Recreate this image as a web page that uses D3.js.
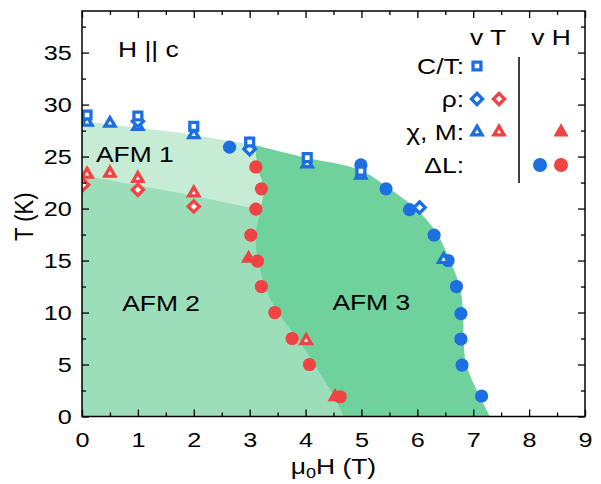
<!DOCTYPE html>
<html><head><meta charset="utf-8">
<script src="https://cdn.jsdelivr.net/npm/d3@7/dist/d3.min.js"></script>
<style>body{margin:0;background:#fff}svg{display:block}text{font-family:"Liberation Sans",Arial,sans-serif}</style>
</head><body><svg id="c" width="601" height="484"></svg>
<script>
// ---------- data ----------
const xMajorTicks = [0,1,2,3,4,5,6,7,8,9];
const xMinorTicks = [0.5,1.5,2.5,3.5,4.5,5.5,6.5,7.5,8.5];
const yMajorTicks = [0,5,10,15,20,25,30,35];
const yMinorTicks = [2.5,7.5,12.5,17.5,22.5,27.5,32.5,37.5];

// measurements vs T (fixed field)
const ctH   = [0.09, 1.0, 2.0, 3.0, 4.03, 4.99];
const ctT   = [29.0, 28.9, 27.9, 26.4, 24.9, 23.6];
const rhoBlueH = [1.0, 3.0, 6.04];
const rhoBlueT = [28.4, 25.7, 20.1];
const chiBlueH = [0.09, 0.5, 1.0, 2.0, 3.0, 4.03, 4.99, 6.47];
const chiBlueT = [28.3, 28.2, 27.9, 27.1, 26.1, 24.3, 23.2, 15.1];
const rhoRedH = [0.02, 1.0, 2.0];
const rhoRedT = [22.3, 21.8, 20.2];
const chiRedH = [0.09, 0.5, 1.0, 2.0, 4.01];
const chiRedT = [23.3, 23.4, 22.9, 21.5, 7.3];

// measurements vs H (field sweeps)
const chiHRedH = [2.98, 4.53];
const chiHRedT = [15.2, 1.9];
const dLBlueH = [2.64, 4.99, 5.44, 5.86, 6.30, 6.55, 6.70, 6.78, 6.78, 6.80, 7.15];
const dLBlueT = [25.9, 24.2, 21.9, 19.9, 17.45, 15.0, 12.5, 9.9, 7.45, 4.95, 1.97];
const dLRedH = [3.11, 3.21, 3.11, 3.02, 3.14, 3.21, 3.45, 3.76, 4.07, 4.62];
const dLRedT = [24.0, 21.9, 19.95, 17.45, 14.95, 12.5, 10.0, 7.5, 5.0, 1.9];

// phase boundaries
const afm1TopH = [0, 1.75, 3.1];
const afm1TopT = [28.4, 27.3, 26.1];
const afm12H = [0, 1.75, 3.19];
const afm12T = [23.2, 21.5, 19.9];
const afm3LeftH = [3.1, 3.14, 3.25, 3.19, 3.1, 3.15, 3.27, 3.5, 3.85, 4.15, 4.5, 4.68];
const afm3LeftT = [26.1, 24.0, 21.9, 19.9, 17.45, 14.95, 12.5, 10.0, 7.5, 5.0, 2.0, 0];
const afm3RightH = [3.1, 4.0, 4.97, 5.45, 5.99, 6.35, 6.58, 6.76, 6.82, 6.83, 6.87, 7.06, 7.3];
const afm3RightT = [26.1, 24.9, 23.7, 22.1, 19.9, 17.6, 15.05, 12.5, 9.9, 7.35, 5.1, 2.55, 0];

const phaseLabels = ["AFM 1", "AFM 2", "AFM 3"];
const phaseLabelH = [0.25, 0.72, 4.48];
const phaseLabelT = [24.5, 10.1, 10.2];

const legendRows = ["C/T:", "ρ:", "χ, M:", "ΔL:"];
const legendHead = ["v T", "v H"];

// ---------- drawing ----------
const L = 82, R = 585, T0 = 11, B = 416.5;
const SX = 1.2; // horizontal stretch of the lettering in the original
const blue = "#1c6fe0", red = "#f04343";
const cLight = "#c6ecd6", cMed = "#9bdeb9", cDark = "#6fd19b";
const svg = d3.select("#c");
const x = d3.scaleLinear().domain([0, 9]).range([L, R]);
const y = d3.scaleLinear().domain([0, 39]).range([B, T0]);
const zip = (a, b) => a.map((v, i) => [v, b[i]]);

const lineLin = d3.line().x(d => x(d[0])).y(d => y(d[1]));
const lineCR = d3.line().x(d => x(d[0])).y(d => y(d[1])).curve(d3.curveCatmullRom.alpha(0.5));
const seg = (gen, pts) => gen(pts).replace(/^M/, "L");

const left = zip(afm3LeftH, afm3LeftT);
const right = zip(afm3RightH, afm3RightT);
const origin = `M${x(0)},${y(0)}`;

// plot clip
svg.append("clipPath").attr("id", "clip").append("rect")
  .attr("x", L).attr("y", T0).attr("width", R - L).attr("height", B - T0);
const plot = svg.append("g").attr("clip-path", "url(#clip)");

// light region (AFM1)
plot.append("path").attr("d", origin + seg(lineLin, zip(afm1TopH, afm1TopT)) + seg(lineCR, left) + "Z").attr("fill", cLight);
// medium region (AFM2)
plot.append("path").attr("d", origin + seg(lineLin, zip(afm12H, afm12T)) + seg(lineCR, left.filter(d => d[1] <= 19.9)) + "Z").attr("fill", cMed);
// dark region (AFM3)
plot.append("path").attr("d", lineCR(right) + seg(lineCR, left.slice().reverse()) + "Z").attr("fill", cDark);

// markers
const sq = d3.symbol().type(d3.symbolSquare).size(62)();
const tri = d3.symbol().type(d3.symbolTriangle).size(44)();
const triF = d3.symbol().type(d3.symbolTriangle).size(100)();
function openMarks(hs, ts, path, col, rot) {
  plot.append("g").selectAll("path").data(zip(hs, ts)).join("path")
    .attr("d", path)
    .attr("transform", d => `translate(${x(d[0])},${y(d[1])})` + (rot ? " rotate(45)" : ""))
    .attr("fill", "#fff").attr("stroke", col).attr("stroke-width", 3.3);
}
function filledTri(hs, ts, col) {
  plot.append("g").selectAll("path").data(zip(hs, ts)).join("path")
    .attr("d", triF).attr("transform", d => `translate(${x(d[0])},${y(d[1])})`).attr("fill", col);
}
function circles(hs, ts, col) {
  plot.append("g").selectAll("circle").data(zip(hs, ts)).join("circle")
    .attr("cx", d => x(d[0])).attr("cy", d => y(d[1])).attr("r", 6.6).attr("fill", col);
}
circles(dLBlueH, dLBlueT, blue);
circles(dLRedH, dLRedT, red);
filledTri(chiHRedH, chiHRedT, red);
openMarks(chiBlueH, chiBlueT, tri, blue, false);
openMarks(rhoBlueH, rhoBlueT, sq, blue, true);
openMarks(ctH, ctT, sq, blue, false);
openMarks(chiRedH, chiRedT, tri, red, false);
openMarks(rhoRedH, rhoRedT, sq, red, true);

// axes
const g = svg.append("g");
function styleAxis(sel) {
  sel.select(".domain").remove();
  sel.selectAll("line").attr("stroke", "#000").attr("stroke-width", 1.3);
  sel.selectAll("text").attr("font-size", 21).attr("fill", "#000")
     .attr("font-family", '"Liberation Sans",Arial,sans-serif')
     .attr("transform", `scale(${SX},1)`);
}
g.append("g").attr("transform", `translate(0,${B})`)
  .call(d3.axisBottom(x).tickValues(xMajorTicks).tickSize(-7).tickPadding(16).tickFormat(d3.format("d"))).call(styleAxis);
g.append("g").attr("transform", `translate(0,${B})`)
  .call(d3.axisBottom(x).tickValues(xMinorTicks).tickSize(-4).tickFormat("")).call(styleAxis);
g.append("g").attr("transform", `translate(0,${T0})`)
  .call(d3.axisTop(x).tickValues(xMajorTicks).tickSize(-7).tickFormat("")).call(styleAxis);
g.append("g").attr("transform", `translate(0,${T0})`)
  .call(d3.axisTop(x).tickValues(xMinorTicks).tickSize(-4).tickFormat("")).call(styleAxis);
g.append("g").attr("transform", `translate(${L},0)`)
  .call(d3.axisLeft(y).tickValues(yMajorTicks).tickSize(-7).tickPadding(8.5).tickFormat(d3.format("d"))).call(styleAxis);
g.append("g").attr("transform", `translate(${L},0)`)
  .call(d3.axisLeft(y).tickValues(yMinorTicks).tickSize(-4).tickFormat("")).call(styleAxis);
g.append("g").attr("transform", `translate(${R},0)`)
  .call(d3.axisRight(y).tickValues(yMajorTicks).tickSize(-7).tickFormat("")).call(styleAxis);
g.append("g").attr("transform", `translate(${R},0)`)
  .call(d3.axisRight(y).tickValues(yMinorTicks).tickSize(-4).tickFormat("")).call(styleAxis);
svg.append("rect").attr("x", L).attr("y", T0).attr("width", R - L).attr("height", B - T0)
  .attr("fill", "none").attr("stroke", "#000").attr("stroke-width", 1.5);

// axis titles
svg.append("text").attr("transform", `translate(33,${(T0 + B) / 2 + 3}) rotate(-90) scale(1,${SX})`)
  .attr("text-anchor", "middle").attr("font-size", 22).text("T (K)");
const xt = svg.append("text").attr("transform", `translate(${(L + R) / 2},474) scale(${SX},1)`)
  .attr("text-anchor", "middle").attr("font-size", 22);
xt.append("tspan").text("μ");
xt.append("tspan").attr("font-size", 15).attr("dy", 4).text("0");
xt.append("tspan").attr("dy", -4).text("H (T)");

// labels
svg.append("text").attr("transform", `translate(118,57) scale(${SX},1)`).attr("font-size", 22).text("H || c");
phaseLabels.forEach((t, i) => {
  svg.append("text").attr("transform", `translate(${x(phaseLabelH[i])},${y(phaseLabelT[i])}) scale(${SX},1)`)
    .attr("font-size", 22).text(t);
});

// legend
const lg = svg.append("g");
const rowY = [66, 99, 132, 165];
const colX = [477, 499, 540, 561];
lg.append("text").attr("transform", `translate(488,45) scale(${SX},1)`).attr("text-anchor", "middle").attr("font-size", 22).text(legendHead[0]);
lg.append("text").attr("transform", `translate(551,45) scale(${SX},1)`).attr("text-anchor", "middle").attr("font-size", 22).text(legendHead[1]);
legendRows.forEach((t, i) => {
  lg.append("text").attr("transform", `translate(464,${rowY[i] + 8}) scale(${SX},1)`).attr("text-anchor", "end").attr("font-size", 22).text(t);
});
lg.append("line").attr("x1", 519).attr("x2", 519).attr("y1", 57).attr("y2", 183).attr("stroke", "#000").attr("stroke-width", 1.5);
function lmark(path, cx, cy, col, rot) {
  lg.append("path").attr("d", path).attr("transform", `translate(${cx},${cy})` + (rot ? " rotate(45)" : ""))
    .attr("fill", "#fff").attr("stroke", col).attr("stroke-width", 3.3);
}
lmark(sq, colX[0], rowY[0], blue, false);
lmark(sq, colX[0], rowY[1], blue, true);
lmark(sq, colX[1], rowY[1], red, true);
lmark(tri, colX[0], rowY[2], blue, false);
lmark(tri, colX[1], rowY[2], red, false);
lg.append("path").attr("d", triF).attr("transform", `translate(${colX[3]},${rowY[2]})`).attr("fill", red);
lg.append("circle").attr("cx", colX[2]).attr("cy", rowY[3]).attr("r", 7).attr("fill", blue);
lg.append("circle").attr("cx", colX[3]).attr("cy", rowY[3]).attr("r", 7).attr("fill", red);
</script></body></html>
